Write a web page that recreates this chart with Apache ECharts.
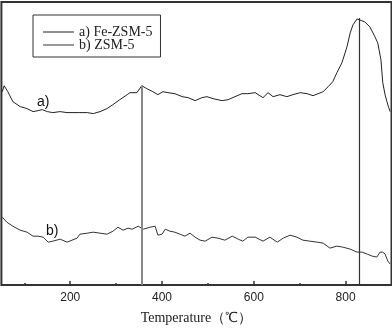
<!DOCTYPE html>
<html>
<head>
<meta charset="utf-8">
<script src="https://cdn.jsdelivr.net/npm/echarts@6/dist/echarts.min.js"></script>
<style>
  html, body { margin: 0; padding: 0; background: #fff; }
  #chart { width: 392px; height: 330px; }
</style>
</head>
<body>
<div id="chart"></div>
<script>
// 数据 (arbitrary intensity units)
let tempA = [52, 56, 64, 75, 91, 106, 119, 130, 139, 150, 162, 178, 193, 206, 221, 237, 250, 265, 280, 293, 308, 324, 330, 345, 356, 367, 380, 391, 402, 413, 428, 444, 457, 472, 487, 498, 511, 531, 544, 559, 574, 587, 603, 607, 620, 631, 642, 657, 672, 685, 701, 716, 729, 740, 751, 762, 772, 781, 792, 803, 810, 816, 825, 829, 842, 853, 864, 870, 877, 881, 886, 890, 894, 897]
let valA = [194, 200, 194, 184, 179, 177, 174, 175, 176, 174, 173, 174, 173, 173, 173, 173, 172, 174, 177, 181, 186, 191, 193, 193, 200, 197, 194, 191, 194, 193, 192, 189, 188, 185, 188, 189, 187, 185, 186, 189, 192, 192, 193, 191, 188, 193, 189, 191, 189, 191, 193, 192, 190, 192, 194, 199, 204, 213, 223, 239, 253, 261, 267, 268, 264, 259, 249, 243, 226, 203, 191, 184, 178, 174]
let tempB = [52, 54, 62, 75, 91, 106, 119, 130, 141, 152, 162, 178, 193, 204, 215, 221, 237, 250, 265, 280, 293, 304, 315, 326, 335, 348, 359, 374, 385, 391, 400, 407, 417, 428, 439, 450, 461, 472, 483, 494, 509, 522, 537, 553, 566, 576, 587, 603, 620, 635, 651, 664, 679, 694, 707, 722, 738, 751, 766, 781, 794, 810, 825, 836, 847, 858, 868, 875, 881, 886, 890, 892, 897]
let valB = [68, 70, 63, 59, 55, 53, 49, 49, 48, 43, 44, 46, 43, 45, 47, 51, 52, 53, 52, 51, 54, 58, 55, 57, 56, 59, 56, 58, 59, 50, 51, 56, 54, 53, 51, 49, 52, 48, 45, 44, 48, 47, 45, 49, 46, 44, 48, 48, 44, 48, 43, 47, 50, 48, 45, 44, 43, 42, 37, 39, 38, 36, 33, 33, 31, 29, 28, 33, 33, 31, 29, 24, 21]
let peakTemps = [356, 829]
let labelTicks = [200, 400, 600, 800]
let minorTicks = [100, 300, 500, 700]

function pairs(xs, ys) {
    return xs.map((x, i) => [x, ys[i]])
}

// 垂直线: from axis bottom up to curve a at each peak temperature
let peakLines = peakTemps.map((t, i) => {
    let v = valA[tempA.indexOf(t)]
    return [{
        coord: [t, 0],
        lineStyle: i === 0 ? { color: '#888', width: 2, type: 'solid' } : { color: '#333', width: 1.2, type: 'solid' }
    }, {
        coord: [t, v]
    }]
})

let chart = echarts.init(document.getElementById('chart'))
let option = {
    animation: false,
    grid: {
        left: 1.4,
        right: 0.5,
        top: 2,
        bottom: 44,
        show: true,
        borderColor: '#333',
        borderWidth: 2,
        backgroundColor: 'transparent'
    },
    legend: {
        orient: 'vertical',
        left: 33,
        top: 15,
        padding: [10, 8, 5, 10],
        icon: 'rect',
        itemWidth: 31,
        itemHeight: 1,
        itemGap: -1,
        borderColor: '#333',
        borderWidth: 1,
        textStyle: {
            fontFamily: 'Liberation Serif',
            fontSize: 14,
            lineHeight: 14,
            color: '#222'
        },
        data: ['a) Fe-ZSM-5', 'b) ZSM-5']
    },
    xAxis: [{
        type: 'value',
        min: 50,
        max: 900,
        name: 'Temperature（℃）',
        nameLocation: 'middle',
        nameGap: 26,
        nameTextStyle: {
            fontFamily: 'Liberation Serif',
            fontSize: 14,
            color: '#222'
        },
        axisLine: { show: false },
        splitLine: { show: false },
        axisTick: {
            inside: true,
            length: 4,
            customValues: labelTicks,
            lineStyle: { color: '#333', width: 1.5 }
        },
        axisLabel: {
            customValues: labelTicks,
            margin: 7,
            fontFamily: 'Liberation Sans',
            fontSize: 12,
            color: '#222'
        }
    }, {
        type: 'value',
        min: 50,
        max: 900,
        position: 'bottom',
        axisLine: { show: false },
        splitLine: { show: false },
        axisLabel: { show: false },
        axisTick: {
            inside: true,
            length: 2,
            customValues: minorTicks,
            lineStyle: { color: '#333', width: 1.5 }
        }
    }],
    yAxis: {
        type: 'value',
        min: 0,
        max: 284,
        show: false
    },
    graphic: [{
        type: 'text',
        left: 37,
        top: 95,
        style: { text: 'a)', fontFamily: 'Liberation Sans', fontSize: 14, fill: '#111' }
    }, {
        type: 'text',
        left: 46,
        top: 224,
        style: { text: 'b)', fontFamily: 'Liberation Sans', fontSize: 14, fill: '#111' }
    }],
    series: [{
        name: 'a) Fe-ZSM-5',
        type: 'line',
        data: pairs(tempA, valA),
        symbol: 'none',
        lineStyle: { color: '#222', width: 1 },
        itemStyle: { color: '#222' },
        markLine: {
            silent: true,
            symbol: 'none',
            label: { show: false },
            data: peakLines
        }
    }, {
        name: 'b) ZSM-5',
        type: 'line',
        data: pairs(tempB, valB),
        symbol: 'none',
        lineStyle: { color: '#333', width: 1 },
        itemStyle: { color: '#333' }
    }]
}
chart.setOption(option)
</script>
</body>
</html>
